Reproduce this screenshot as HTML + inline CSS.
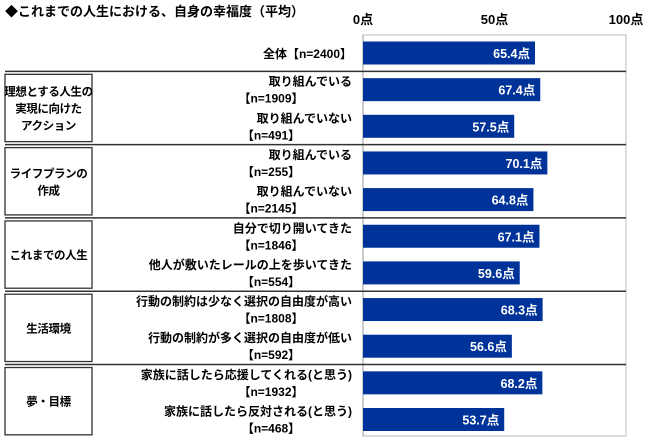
<!DOCTYPE html>
<html><head><meta charset="utf-8"><style>
body{margin:0;background:#fff;}
svg text{font-family:"Liberation Sans","Noto Sans CJK JP",sans-serif;font-weight:bold;}
</style></head><body>
<svg width="650" height="440">
<text x="5" y="16" font-size="13" fill="#000">◆これまでの人生における、自身の幸福度（平均）</text>
<g id="ticks"></g>
<g id="frame"></g>
<g id="bars"></g>
<g id="labels"></g>
</svg>
<script>
const labels=["全体【n=2400】","取り組んでいる","取り組んでいない","取り組んでいる","取り組んでいない","自分で切り開いてきた","他人が敷いたレールの上を歩いてきた","行動の制約は少なく選択の自由度が高い","行動の制約が多く選択の自由度が低い","家族に話したら応援してくれる(と思う)","家族に話したら反対される(と思う)"];
const nLabels=["","【n=1909】","【n=491】","【n=255】","【n=2145】","【n=1846】","【n=554】","【n=1808】","【n=592】","【n=1932】","【n=468】"];
const values=[65.4,67.4,57.5,70.1,64.8,67.1,59.6,68.3,56.6,68.2,53.7];
const groups=["理想とする人生の|実現に向けた|アクション","ライフプランの|作成","これまでの人生","生活環境","夢・目標"];
const tickVals=[0,50,100];
const NS="http://www.w3.org/2000/svg";
const x0=363,x1=626,plotTop=35,plotBottom=436,y0=53,step=36.65,bh=23;
const xs=v=>x0+(x1-x0)*v/100;
const ys=i=>y0+step*i;
function mk(tag,attrs,parent,txt){const e=document.createElementNS(NS,tag);for(const k in attrs)e.setAttribute(k,attrs[k]);if(txt!==undefined)e.textContent=txt;document.getElementById(parent).appendChild(e);return e;}
tickVals.forEach(t=>{
 const e=mk("text",{x:xs(t),y:24,"font-size":"13","text-anchor":"middle"},"ticks",t+"点");
 
 
});
let f=mk("rect",{x:x0,y:plotTop,width:x1-x0,height:plotBottom-plotTop,fill:"none",stroke:"#bbb","stroke-width":1},"frame");


let ax=mk("line",{x1:x0,y1:plotTop,x2:x0,y2:plotBottom,stroke:"#999"},"frame");


const bounds=[0,2,4,6,8];
bounds.forEach(b=>{
 const y=ys(b)+step/2;
 const l=mk("line",{x1:5,y1:y,x2:x1,y2:y,stroke:"#333","stroke-width":1.5},"frame");
 
 
});
groups.forEach((g,gi)=>{
 const yA=ys(1+gi*2)-step/2+3, yB=ys(2+gi*2)+step/2-3;
 const r=mk("rect",{x:5,y:yA,width:87,height:yB-yA,fill:"#fff",stroke:"#333","stroke-width":1.3},"frame");
 
 
 const lines=g.split("|");const cy=(yA+yB)/2;
 lines.forEach((s,li)=>{
  const t=mk("text",{x:48.5,y:cy+(li-(lines.length-1)/2)*17+4.5,"font-size":"11.5","letter-spacing":"-0.4","text-anchor":"middle"},"labels",s);
  
  
 });
});
values.forEach((v,i)=>{
 const c=ys(i);
 const b=mk("rect",{x:x0,y:c-bh/2,width:xs(v)-x0,height:bh,fill:"#003399"},"bars");
 
 
 const vt=mk("text",{x:xs(v)-5,y:c+5,"font-size":"12.5","text-anchor":"end",fill:"#fff"},"bars",v.toFixed(1)+"点");
 
 
 if(nLabels[i]===""){
  const t=mk("text",{x:352,y:c+5,"font-size":"12","text-anchor":"end"},"labels",labels[i]);
  
  
 }else{
  const t=mk("text",{x:352,y:c-4,"font-size":"12","text-anchor":"end"},"labels",labels[i]);
  
  
  const n=mk("text",{x:271,y:c+13,"font-size":"12","text-anchor":"middle"},"labels",nLabels[i]);
  
  
 }
});
</script>
</body></html>
